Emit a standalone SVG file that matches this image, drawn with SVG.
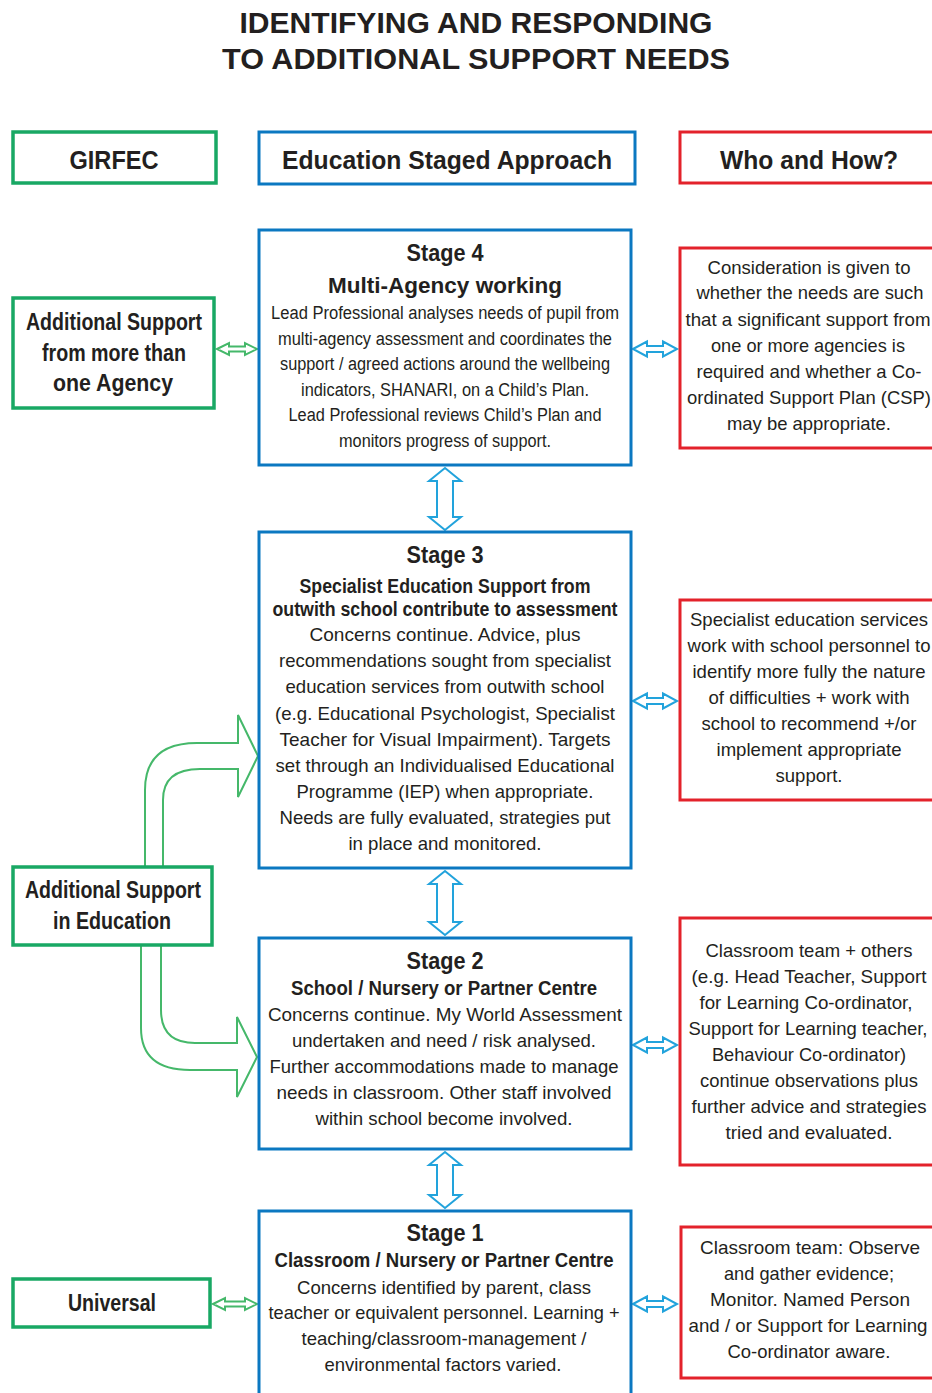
<svg xmlns="http://www.w3.org/2000/svg" width="932" height="1393" viewBox="0 0 932 1393">
  <defs>
    <style>
      text { font-family: "Liberation Sans", Arial, sans-serif; fill: #231f20; text-anchor: middle; }
      .title { font-size: 30px; font-weight: bold; }
      .head { font-size: 26px; font-weight: bold; }
      .side { font-size: 23px; font-weight: bold; }
      .stage { font-size: 23px; font-weight: bold; }
      .sub { font-size: 19.5px; font-weight: bold; }
      .body { font-size: 18.5px; }
      .body4 { font-size: 18px; }
      .g { fill: #fff; stroke: #19a864; stroke-width: 3.5; }
      .b { fill: #fff; stroke: #0b78c1; stroke-width: 3; }
      .r { fill: #fff; stroke: #e3222b; stroke-width: 3; }
      .ga { fill: #fff; stroke: #45b86a; stroke-width: 2; stroke-linejoin: miter; }
      .ba { fill: #fff; stroke: #22a3dc; stroke-width: 2; stroke-linejoin: miter; }
    </style>
  </defs>

  <rect width="932" height="1393" fill="#fff"/>

  <!-- heading -->
  <g id="title">
    <text class="title" x="476" y="33" textLength="473" lengthAdjust="spacingAndGlyphs">IDENTIFYING AND RESPONDING</text>
    <text class="title" x="476" y="69" textLength="508" lengthAdjust="spacingAndGlyphs">TO  ADDITIONAL SUPPORT NEEDS</text>
  </g>

  <!-- column headers -->
  <g id="girfec">
    <rect class="g" x="13" y="132" width="203" height="51" stroke-width="4"/>
    <text class="head" x="114" y="169" textLength="89" lengthAdjust="spacingAndGlyphs">GIRFEC</text>
  </g>
  <g id="staged-approach">
    <rect class="b" x="259" y="132" width="376" height="52" stroke-width="4.5"/>
    <text class="head" x="447" y="169" textLength="330" lengthAdjust="spacingAndGlyphs">Education Staged Approach</text>
  </g>
  <g id="who-and-how">
    <rect class="r" x="680" y="132" width="262" height="51" stroke-width="3.5"/>
    <text class="head" x="809" y="169" textLength="178" lengthAdjust="spacingAndGlyphs">Who and How?</text>
  </g>

  <!-- connectors -->
  <g id="connectors">
    <!-- horizontal double arrows, left column to stages -->
    <path class="ga" d="M217,349 L229,343 L229,346.5 L245,346.5 L245,343 L257,349 L245,355 L245,351.5 L229,351.5 L229,355 Z"/>
    <path class="ga" d="M213,1304 L225,1298 L225,1301.5 L245,1301.5 L245,1298 L257,1304 L245,1310 L245,1306.5 L225,1306.5 L225,1310 Z"/>
    <!-- horizontal double arrows, stages to who/how -->
    <path class="ba" d="M633,349 L647,341.5 L647,346 L663,346 L663,341.5 L677,349 L663,356.5 L663,352 L647,352 L647,356.5 Z"/>
    <path class="ba" d="M633,701 L647,693.5 L647,698 L663,698 L663,693.5 L677,701 L663,708.5 L663,704 L647,704 L647,708.5 Z"/>
    <path class="ba" d="M633,1045 L647,1037.5 L647,1042 L663,1042 L663,1037.5 L677,1045 L663,1052.5 L663,1048 L647,1048 L647,1052.5 Z"/>
    <path class="ba" d="M633,1304 L647,1296.5 L647,1301 L663,1301 L663,1296.5 L677,1304 L663,1311.5 L663,1307 L647,1307 L647,1311.5 Z"/>
    <!-- vertical double arrows between stages -->
    <path class="ba" d="M445,468 L461,481 L453,481 L453,517 L461,517 L445,530 L429,517 L437,517 L437,481 L429,481 Z"/>
    <path class="ba" d="M445,871 L461,884 L453,884 L453,922 L461,922 L445,935 L429,922 L437,922 L437,884 L429,884 Z"/>
    <path class="ba" d="M445,1152 L461,1165 L453,1165 L453,1195 L461,1195 L445,1208 L429,1195 L437,1195 L437,1165 L429,1165 Z"/>
    <!-- curved arrows from Additional Support in Education -->
    <path class="ga" d="M145,866 L145,790 Q145,743 197,743 L238,743 L238,715 L258,756 L238,797 L238,769 L200,769 Q163,769 163,800 L163,866"/>
    <path class="ga" d="M141,946 L141,1028 Q141,1070 190,1070 L237,1070 L237,1097 L257,1057 L237,1017 L237,1043 L195,1043 Q161,1043 161,1010 L161,946"/>
  </g>

  <!-- GIRFEC levels -->
  <g id="more-than-one-agency">
    <rect class="g" x="13" y="298" width="201" height="110" stroke-width="3"/>
    <text class="side" x="114" y="330" textLength="176" lengthAdjust="spacingAndGlyphs">Additional Support</text>
    <text class="side" x="114" y="361" textLength="144" lengthAdjust="spacingAndGlyphs">from more than</text>
    <text class="side" x="113" y="391" textLength="120" lengthAdjust="spacingAndGlyphs">one  Agency</text>
  </g>
  <g id="support-in-education">
    <rect class="g" x="13" y="867" width="199" height="78" stroke-width="3"/>
    <text class="side" x="113" y="898" textLength="176" lengthAdjust="spacingAndGlyphs">Additional Support</text>
    <text class="side" x="112" y="929" textLength="118" lengthAdjust="spacingAndGlyphs">in Education</text>
  </g>
  <g id="universal">
    <rect class="g" x="13" y="1279" width="197" height="48" stroke-width="3"/>
    <text class="side" x="112" y="1311" textLength="88" lengthAdjust="spacingAndGlyphs">Universal</text>
  </g>

  <!-- staged approach -->
  <g id="stage-4">
    <rect class="b" x="259" y="230" width="372" height="235"/>
    <text class="stage" x="445" y="261" textLength="77" lengthAdjust="spacingAndGlyphs">Stage 4</text>
    <text class="sub" x="445" y="293" style="font-size:22px" textLength="234" lengthAdjust="spacingAndGlyphs">Multi-Agency working</text>
    <text class="body4" x="445" y="319" textLength="348" lengthAdjust="spacingAndGlyphs">Lead Professional analyses needs of  pupil from</text>
    <text class="body4" x="445" y="345" textLength="334" lengthAdjust="spacingAndGlyphs">multi-agency assessment and coordinates the</text>
    <text class="body4" x="445" y="370" textLength="330" lengthAdjust="spacingAndGlyphs">support / agreed actions around the wellbeing</text>
    <text class="body4" x="445" y="396" textLength="288" lengthAdjust="spacingAndGlyphs">indicators, SHANARI, on a Child’s Plan.</text>
    <text class="body4" x="445" y="421" textLength="313" lengthAdjust="spacingAndGlyphs">Lead Professional reviews Child’s Plan and</text>
    <text class="body4" x="445" y="447" textLength="212" lengthAdjust="spacingAndGlyphs">monitors progress of support.</text>
  </g>

  <g id="stage-3">
    <rect class="b" x="259" y="532" width="372" height="336"/>
    <text class="stage" x="445" y="563" textLength="77" lengthAdjust="spacingAndGlyphs">Stage 3</text>
    <text class="sub" x="445" y="593" textLength="291" lengthAdjust="spacingAndGlyphs">Specialist Education Support from</text>
    <text class="sub" x="445" y="616" textLength="345" lengthAdjust="spacingAndGlyphs">outwith school contribute to assessment</text>
    <text class="body" x="445" y="641" textLength="271" lengthAdjust="spacingAndGlyphs">Concerns continue.  Advice, plus</text>
    <text class="body" x="445" y="667" textLength="332" lengthAdjust="spacingAndGlyphs">recommendations sought from specialist</text>
    <text class="body" x="445" y="693" textLength="319" lengthAdjust="spacingAndGlyphs">education services from outwith school</text>
    <text class="body" x="445" y="720" textLength="340" lengthAdjust="spacingAndGlyphs">(e.g. Educational Psychologist, Specialist</text>
    <text class="body" x="445" y="746" textLength="331" lengthAdjust="spacingAndGlyphs">Teacher for Visual Impairment).  Targets</text>
    <text class="body" x="445" y="772" textLength="339" lengthAdjust="spacingAndGlyphs">set through an Individualised Educational</text>
    <text class="body" x="445" y="798" textLength="297" lengthAdjust="spacingAndGlyphs">Programme (IEP) when appropriate.</text>
    <text class="body" x="445" y="824" textLength="331" lengthAdjust="spacingAndGlyphs">Needs are fully evaluated, strategies put</text>
    <text class="body" x="445" y="850" textLength="193" lengthAdjust="spacingAndGlyphs">in place and monitored.</text>
  </g>

  <g id="stage-2">
    <rect class="b" x="259" y="938" width="372" height="211"/>
    <text class="stage" x="445" y="969" textLength="77" lengthAdjust="spacingAndGlyphs">Stage 2</text>
    <text class="sub" x="444" y="995" textLength="306" lengthAdjust="spacingAndGlyphs">School / Nursery or Partner Centre</text>
    <text class="body" x="445" y="1021" textLength="354" lengthAdjust="spacingAndGlyphs">Concerns continue.  My World Assessment</text>
    <text class="body" x="444" y="1047" textLength="304" lengthAdjust="spacingAndGlyphs">undertaken and need / risk analysed.</text>
    <text class="body" x="444" y="1073" textLength="349" lengthAdjust="spacingAndGlyphs">Further accommodations made to manage</text>
    <text class="body" x="444" y="1099" textLength="335" lengthAdjust="spacingAndGlyphs">needs in classroom.  Other staff involved</text>
    <text class="body" x="444" y="1125" textLength="257" lengthAdjust="spacingAndGlyphs">within school become involved.</text>
  </g>

  <g id="stage-1">
    <rect class="b" x="259" y="1211" width="372" height="200"/>
    <text class="stage" x="445" y="1241" textLength="77" lengthAdjust="spacingAndGlyphs">Stage 1</text>
    <text class="sub" x="444" y="1267" textLength="339" lengthAdjust="spacingAndGlyphs">Classroom / Nursery or Partner Centre</text>
    <text class="body" x="444" y="1294" textLength="294" lengthAdjust="spacingAndGlyphs">Concerns identified by parent, class</text>
    <text class="body" x="444" y="1319" textLength="351" lengthAdjust="spacingAndGlyphs">teacher or equivalent personnel.   Learning +</text>
    <text class="body" x="444" y="1345" textLength="285" lengthAdjust="spacingAndGlyphs">teaching/classroom-management /</text>
    <text class="body" x="443" y="1371" textLength="237" lengthAdjust="spacingAndGlyphs">environmental factors varied.</text>
  </g>

  <!-- who and how -->
  <g id="who-stage-4">
    <rect class="r" x="680" y="248" width="262" height="200"/>
    <text class="body" x="809" y="274" textLength="203" lengthAdjust="spacingAndGlyphs">Consideration is given to</text>
    <text class="body" x="810" y="299" textLength="227" lengthAdjust="spacingAndGlyphs">whether the needs are such</text>
    <text class="body" x="808" y="326" textLength="245" lengthAdjust="spacingAndGlyphs">that a significant support from</text>
    <text class="body" x="808" y="352" textLength="194" lengthAdjust="spacingAndGlyphs">one or more agencies is</text>
    <text class="body" x="809" y="378" textLength="225" lengthAdjust="spacingAndGlyphs">required and whether a Co-</text>
    <text class="body" x="809" y="404" textLength="244" lengthAdjust="spacingAndGlyphs">ordinated Support Plan (CSP)</text>
    <text class="body" x="809" y="430" textLength="164" lengthAdjust="spacingAndGlyphs">may be appropriate.</text>
  </g>

  <g id="who-stage-3">
    <rect class="r" x="680" y="600" width="262" height="200"/>
    <text class="body" x="809" y="626" textLength="238" lengthAdjust="spacingAndGlyphs">Specialist education services</text>
    <text class="body" x="809" y="652" textLength="243" lengthAdjust="spacingAndGlyphs">work with school personnel to</text>
    <text class="body" x="809" y="678" textLength="233" lengthAdjust="spacingAndGlyphs">identify more fully the nature</text>
    <text class="body" x="809" y="704" textLength="201" lengthAdjust="spacingAndGlyphs">of difficulties + work with</text>
    <text class="body" x="809" y="730" textLength="215" lengthAdjust="spacingAndGlyphs">school to recommend +/or</text>
    <text class="body" x="809" y="756" textLength="185" lengthAdjust="spacingAndGlyphs">implement appropriate</text>
    <text class="body" x="809" y="782" textLength="67" lengthAdjust="spacingAndGlyphs">support.</text>
  </g>

  <g id="who-stage-2">
    <rect class="r" x="680" y="918" width="262" height="247"/>
    <text class="body" x="809" y="957" textLength="207" lengthAdjust="spacingAndGlyphs">Classroom team + others</text>
    <text class="body" x="809" y="983" textLength="235" lengthAdjust="spacingAndGlyphs">(e.g. Head Teacher, Support</text>
    <text class="body" x="806" y="1009" textLength="213" lengthAdjust="spacingAndGlyphs">for Learning Co-ordinator,</text>
    <text class="body" x="808" y="1035" textLength="239" lengthAdjust="spacingAndGlyphs">Support for Learning teacher,</text>
    <text class="body" x="809" y="1061" textLength="194" lengthAdjust="spacingAndGlyphs">Behaviour Co-ordinator)</text>
    <text class="body" x="809" y="1087" textLength="218" lengthAdjust="spacingAndGlyphs">continue observations plus</text>
    <text class="body" x="809" y="1113" textLength="235" lengthAdjust="spacingAndGlyphs">further advice and strategies</text>
    <text class="body" x="809" y="1139" textLength="167" lengthAdjust="spacingAndGlyphs">tried  and evaluated.</text>
  </g>

  <g id="who-stage-1">
    <rect class="r" x="681" y="1227" width="262" height="151"/>
    <text class="body" x="810" y="1254" textLength="220" lengthAdjust="spacingAndGlyphs">Classroom team:  Observe</text>
    <text class="body" x="809" y="1280" textLength="170" lengthAdjust="spacingAndGlyphs">and gather evidence;</text>
    <text class="body" x="810" y="1306" textLength="200" lengthAdjust="spacingAndGlyphs">Monitor.  Named Person</text>
    <text class="body" x="808" y="1332" textLength="239" lengthAdjust="spacingAndGlyphs">and / or Support for Learning</text>
    <text class="body" x="809" y="1358" textLength="163" lengthAdjust="spacingAndGlyphs">Co-ordinator aware.</text>
  </g>
</svg>
